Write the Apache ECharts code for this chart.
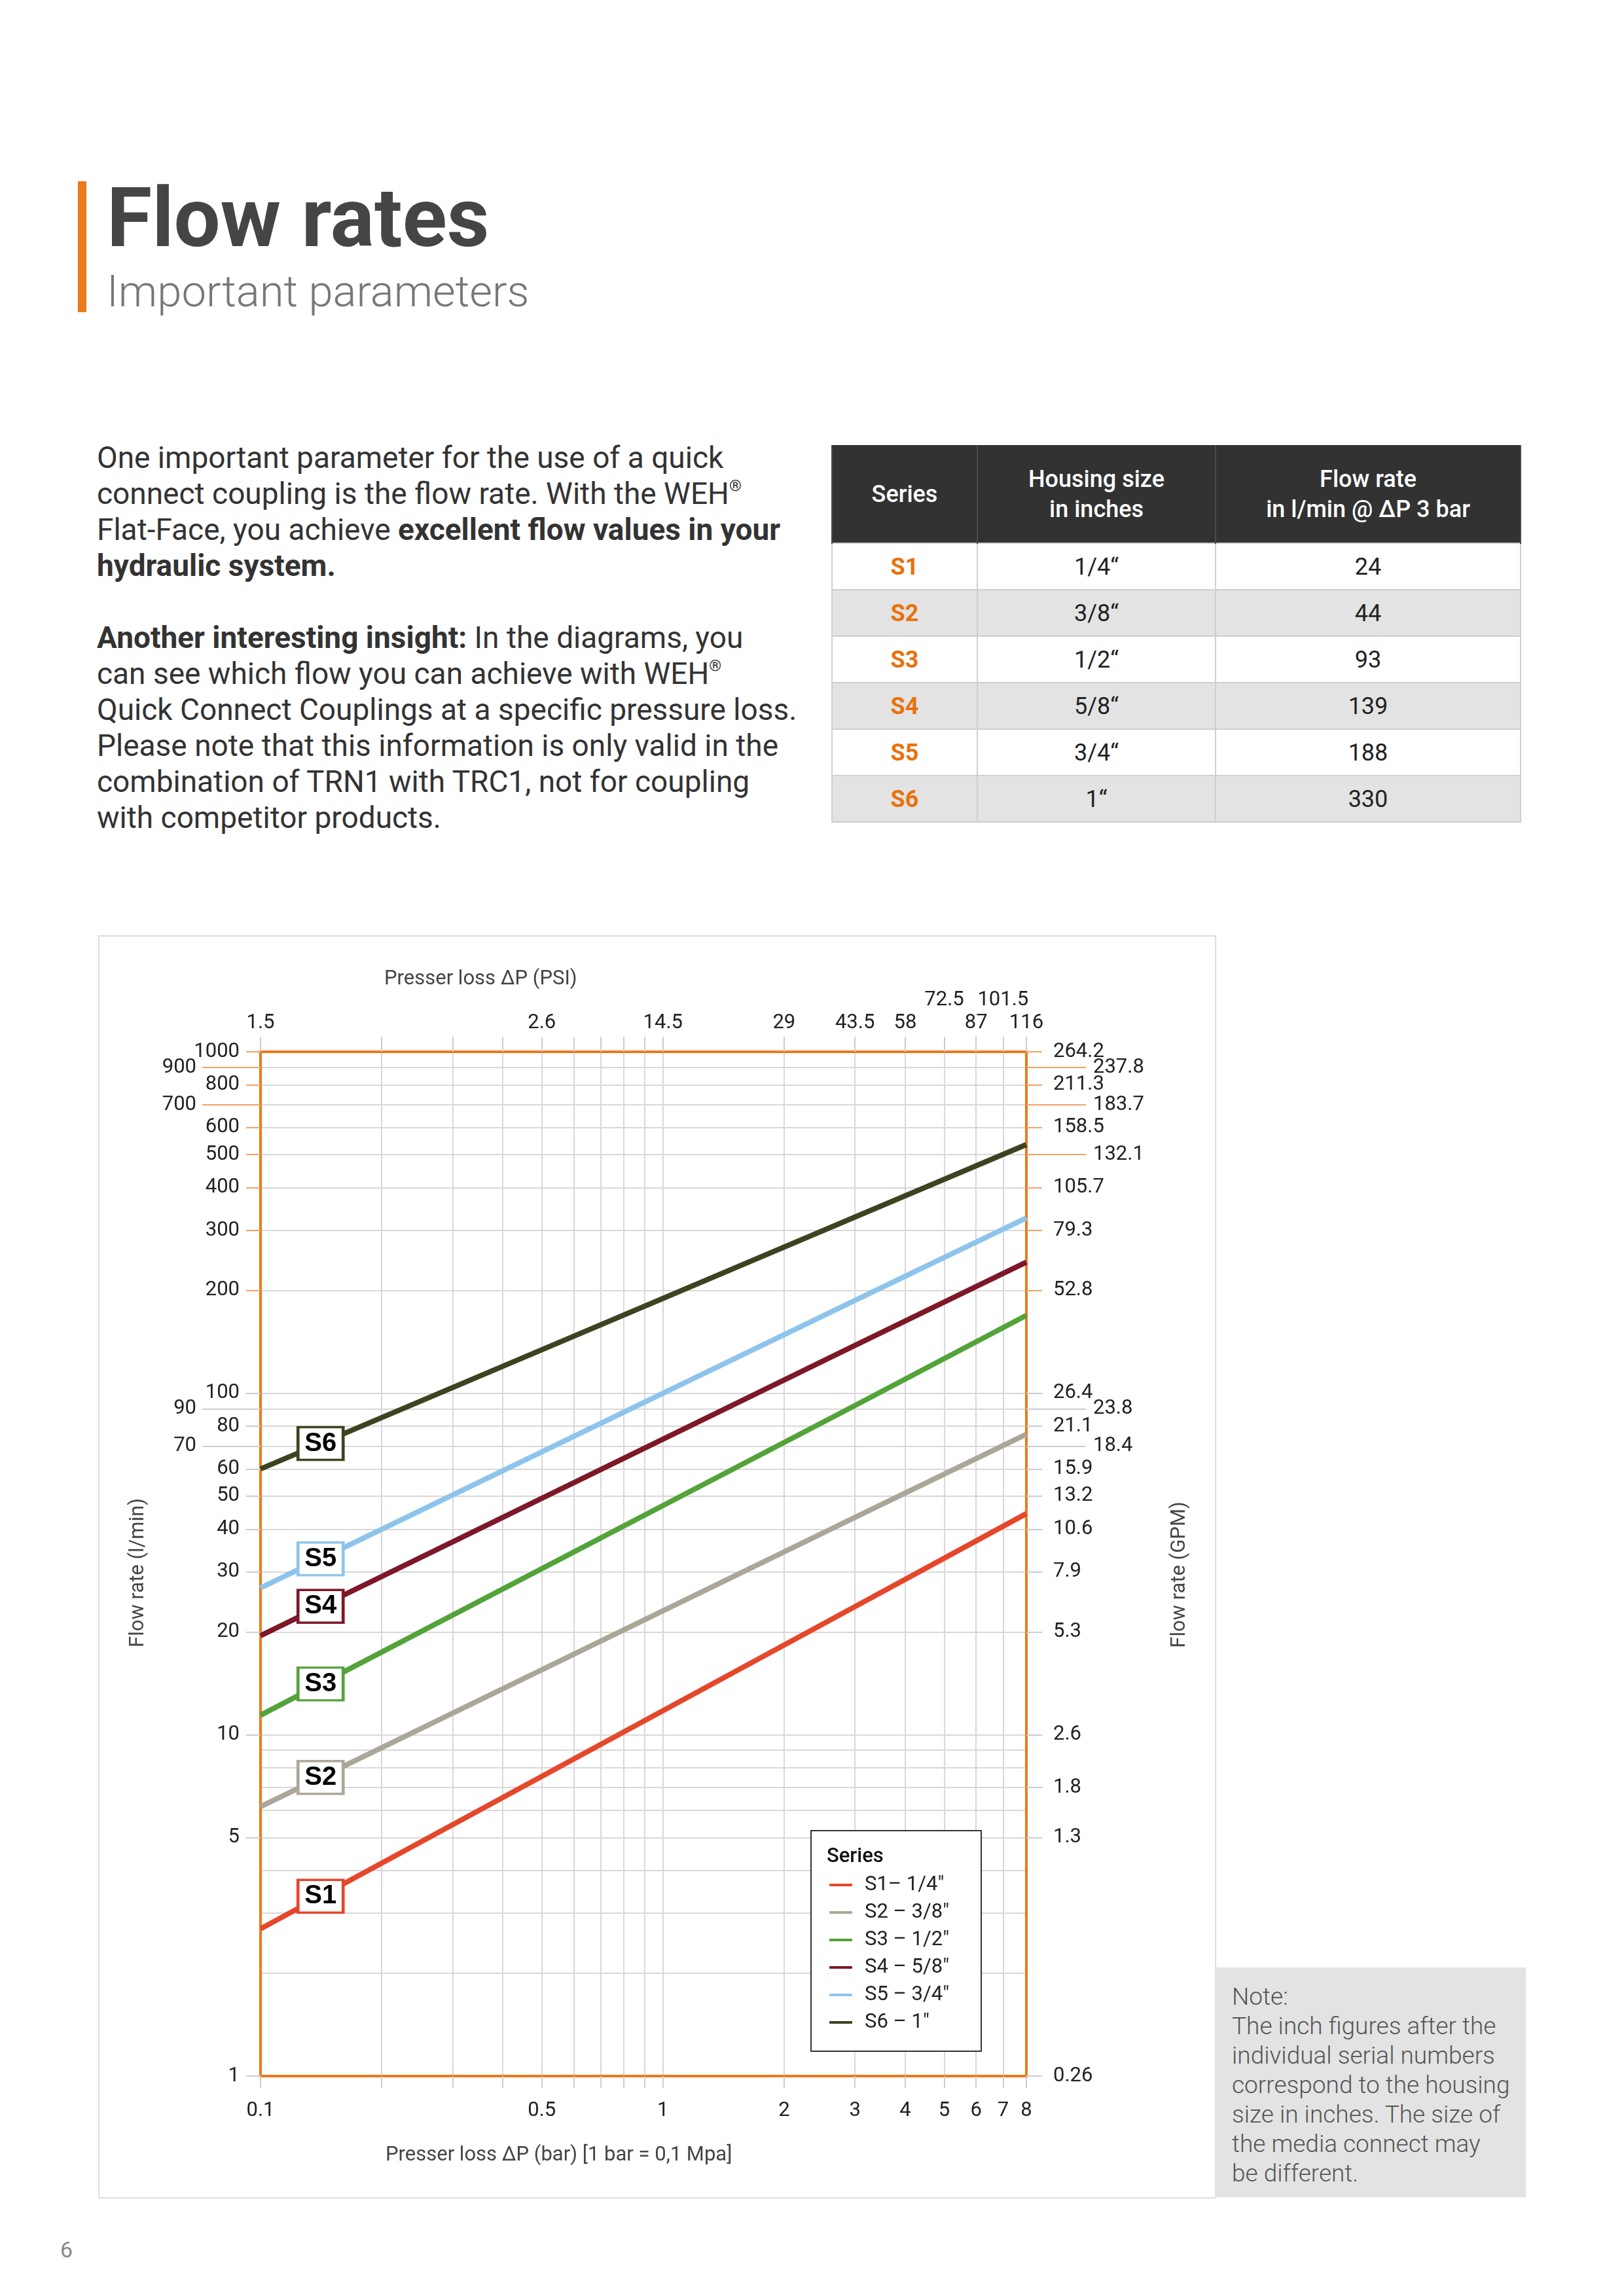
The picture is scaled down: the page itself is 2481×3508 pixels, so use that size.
<!DOCTYPE html>
<html><head><meta charset="utf-8">
<script src="https://cdn.jsdelivr.net/npm/echarts@6/dist/echarts.min.js"></script>
<style>
html,body{margin:0;padding:0;background:#fff;}
body{width:2481px;height:3508px;position:relative;overflow:hidden;font-family:Roboto,'Noto Sans',sans-serif;}
.abs{position:absolute;}
#body{left:148px;top:672px;font-size:46px;line-height:55px;color:#333;white-space:nowrap;}
#body b{font-weight:700;}
#body sup{font-size:24px;vertical-align:top;line-height:30px;}
#tbl{left:1270px;top:680px;border-collapse:collapse;table-layout:fixed;font-family:Roboto;}
#tbl th{background:#323232;color:#fff;font-weight:500;font-size:36px;line-height:46px;height:149px;padding:0;text-align:center;border-left:2px solid #4a4a4a;border-right:2px solid #4a4a4a;}
#tbl td{height:69px;padding:0;text-align:center;font-size:36px;color:#222;border:2px solid #cfcfcf;}
#tbl td.s{color:#e8720c;font-weight:700;}
#tbl tr.g td{background:#e3e3e3;}
#note{left:1857px;top:3006px;width:449px;height:329px;background:#e3e3e3;padding:22px 0 0 25px;font-size:37px;line-height:45px;font-weight:300;color:#555;white-space:nowrap;}
</style></head><body>
<div class="abs" style="left:150px;top:1429px;width:1704px;height:1926px;border:2px solid #dedede;"></div>
<div class="abs" style="left:119px;top:277px;width:13px;height:200px;background:#ea7a1c;"></div>
<div class="abs" style="left:163px;top:270px;font:700 126px/1 Roboto;color:#454545;white-space:nowrap;">Flow rates</div>
<div class="abs" style="left:163px;top:412px;font:300 67px/1 Roboto;color:#777;white-space:nowrap;">Important parameters</div>
<div class="abs" id="body">One important parameter for the use of a quick<br>connect coupling is the flow rate. With the WEH<sup>®</sup><br>Flat-Face, you achieve <b>excellent flow values in your</b><br><b>hydraulic system.</b><br><br><b>Another interesting insight:</b> In the diagrams, you<br>can see which flow you can achieve with WEH<sup>®</sup><br>Quick Connect Couplings at a specific pressure loss.<br>Please note that this information is only valid in the<br>combination of TRN1 with TRC1, not for coupling<br>with competitor products.</div>
<table class="abs" id="tbl"><colgroup><col style="width:222px"><col style="width:364px"><col style="width:466px"></colgroup>
<thead><tr><th>Series</th><th>Housing size<br>in inches</th><th>Flow rate<br>in l/min @ ΔP 3 bar</th></tr></thead><tbody id="tb"></tbody></table>
<div id="chart" class="abs" style="left:0;top:0;width:2481px;height:3508px;"></div>
<div class="abs" id="note">Note:<br>The inch figures after the<br>individual serial numbers<br>correspond to the housing<br>size in inches. The size of<br>the media connect may<br>be different.</div>
<div class="abs" style="left:92px;top:3420px;font:400 34px/1 Roboto;color:#888;">6</div>
<script>
// ---------- data ----------
const tableSeries = ['S1','S2','S3','S4','S5','S6'];
const tableHousing = ['1/4“','3/8“','1/2“','5/8“','3/4“','1“'];
const tableFlow = [24, 44, 93, 139, 188, 330];

const pressureBar = [0.1, 3, 8];
const seriesNames = ['S1– 1/4″','S2 – 3/8″','S3 – 1/2″','S4 – 5/8″','S5 – 3/4″','S6 – 1″'];
const seriesTags = ['S1','S2','S3','S4','S5','S6'];
const flowS1 = [2.7, 23.7, 44.4];
const flowS2 = [6.15, 43.3, 75.8];
const flowS3 = [11.4, 92, 169];
const flowS4 = [19.5, 138, 242];
const flowS5 = [26.9, 187, 326];
const flowS6 = [60.0, 328, 535];
const seriesColors = ['#e5472b','#aca69a','#53a33a','#7d1828','#8ec4ec','#3b4420'];

const barTicks = [0.1, 0.5, 1, 2, 3, 4, 5, 6, 7, 8];
const psiTicks = ['1.5','2.6','14.5','29','43.5','58','72.5','87','101.5','116'];
const psiUpperRow = [5, 7];
const xGridBar = [0.1,0.2,0.3,0.4,0.5,0.6,0.7,0.8,0.9,1,2,3,4,5,6,7,8];

const lpmTicks = [1,5,10,20,30,40,50,60,80,100,200,300,400,500,600,800,1000];
const lpmFarTicks = [70,90,700,900];
const gpmAt = [1000,900,800,700,600,500,400,300,200,100,90,80,70,60,50,40,30,20,10,7,5,1];
const gpmLabels = ['264.2','237.8','211.3','183.7','158.5','132.1','105.7','79.3','52.8','26.4','23.8','21.1','18.4','15.9','13.2','10.6','7.9','5.3','2.6','1.8','1.3','0.26'];
const gpmFarTicks = [70,90,500,700,900];
const yGridLpm = [1,2,3,4,5,6,7,8,9,10,20,30,40,50,60,70,80,90,100,200,300,400,500,600,700,800,900,1000];

// ---------- table ----------
const tb = document.getElementById('tb');
tableSeries.forEach((s, i) => {
  const tr = document.createElement('tr');
  if (i % 2 === 1) tr.className = 'g';
  tr.innerHTML = '<td class="s">' + s + '</td><td>' + tableHousing[i] + '</td><td>' + tableFlow[i] + '</td>';
  tb.appendChild(tr);
});

// ---------- chart ----------
const ORANGE = '#ea7a1c', TICK_OR = '#f2a366', TICK_GR = '#cccccc', GRIDC = '#d8d8d8';
const LBL = {fontSize: 31, color: '#222', fontFamily: 'Roboto'};
const flows = [flowS1, flowS2, flowS3, flowS4, flowS5, flowS6];
const near = (a, b) => Math.abs(a - b) < 1e-9 * Math.max(1, Math.abs(b));
const psiFmt = v => { const i = barTicks.findIndex(t => near(t, v)); return i < 0 ? '' : psiTicks[i]; };
const gpmFmt = v => { const i = gpmAt.findIndex(t => near(t, v)); return i < 0 ? '' : gpmLabels[i]; };
const lpmFmt = v => String(Math.round(v));

function yAx(pos, values, color, len, margin, fmt) {
  return {type: 'log', logBase: 10, min: 1, max: 1000, position: pos,
    axisLine: {show: false}, splitLine: {show: false},
    axisTick: {show: true, customValues: values, length: len, lineStyle: {color: color, width: 2}},
    axisLabel: Object.assign({show: true, customValues: values, margin: margin, formatter: fmt}, LBL)};
}
const up = a => a.filter(v => v >= 200), lo = a => a.filter(v => v <= 100);
const gpmNear = gpmAt.filter(v => gpmFarTicks.indexOf(v) < 0);

const yAxes = [
  {type: 'log', logBase: 10, min: 1, max: 1000, position: 'left',
   axisLine: {show: true, lineStyle: {color: ORANGE, width: 4}},
   axisTick: {show: false, customValues: yGridLpm}, axisLabel: {show: false},
   splitLine: {show: true, lineStyle: {color: GRIDC, width: 2}}},
  yAx('left', up(lpmTicks), TICK_OR, 22, 32, lpmFmt),
  yAx('left', lo(lpmTicks), TICK_GR, 22, 32, lpmFmt),
  yAx('left', up(lpmFarTicks), TICK_OR, 89, 98, lpmFmt),
  yAx('left', lo(lpmFarTicks), TICK_GR, 89, 98, lpmFmt),
  yAx('right', up(gpmNear), TICK_OR, 24, 41, gpmFmt),
  yAx('right', lo(gpmNear), TICK_GR, 24, 41, gpmFmt),
  yAx('right', up(gpmFarTicks), TICK_OR, 91, 102, gpmFmt),
  yAx('right', lo(gpmFarTicks), TICK_GR, 91, 102, gpmFmt)
];
yAxes[5].axisLine = {show: true, lineStyle: {color: ORANGE, width: 4}};

const xBase = {type: 'log', logBase: 10, min: 0.1, max: 8};
const xAxes = [
  Object.assign({}, xBase, {position: 'bottom',
    axisLine: {show: true, lineStyle: {color: ORANGE, width: 4}},
    axisTick: {show: true, customValues: xGridBar, length: 18, lineStyle: {color: TICK_GR, width: 2}},
    axisLabel: Object.assign({customValues: barTicks, margin: 38, formatter: v => String(+v.toPrecision(3))}, LBL),
    splitLine: {show: true, lineStyle: {color: GRIDC, width: 2}}}),
  Object.assign({}, xBase, {position: 'top',
    axisLine: {show: true, lineStyle: {color: ORANGE, width: 4}},
    axisTick: {show: true, customValues: xGridBar, length: 23, lineStyle: {color: TICK_GR, width: 2}},
    axisLabel: Object.assign({customValues: barTicks.filter(v => psiUpperRow.indexOf(v) < 0), margin: 28, formatter: psiFmt}, LBL),
    splitLine: {show: false}}),
  Object.assign({}, xBase, {position: 'top',
    axisLine: {show: false}, axisTick: {show: false}, splitLine: {show: false},
    axisLabel: Object.assign({customValues: psiUpperRow, margin: 63, formatter: psiFmt}, LBL)})
];

const TAG_BAR = 0.141;
function logInterp(xs, ys, x) {
  const lx = Math.log10(x), x0 = Math.log10(xs[0]), x1 = Math.log10(xs[1]);
  const t = (lx - x0) / (x1 - x0);
  return Math.pow(10, Math.log10(ys[0]) + t * (Math.log10(ys[1]) - Math.log10(ys[0])));
}

const series = flows.map((f, i) => ({
  name: seriesNames[i], type: 'line', xAxisIndex: 0, yAxisIndex: 0,
  data: pressureBar.map((p, j) => [p, f[j]]),
  showSymbol: false, symbol: 'none', smooth: false,
  lineStyle: {color: seriesColors[i], width: 8, cap: 'butt'},
  itemStyle: {color: seriesColors[i]},
  z: 3,
  markPoint: {
    silent: true, symbol: 'rect', symbolSize: [69, 50],
    itemStyle: {color: '#fff', borderColor: seriesColors[i], borderWidth: 4},
    label: {show: true, position: 'inside', formatter: seriesTags[i], color: '#000', fontSize: 40, fontWeight: 'bold', fontFamily: 'Liberation Sans'},
    data: [{name: seriesTags[i], coord: [TAG_BAR, logInterp(pressureBar, f, TAG_BAR)]}]
  }
}));

const chart = echarts.init(document.getElementById('chart'), null, {renderer: 'canvas'});
chart.setOption({
  animation: false,
  backgroundColor: 'transparent',
  grid: {left: 398, top: 1607, width: 1170, height: 1565, show: true, borderColor: ORANGE, borderWidth: 4, backgroundColor: 'transparent'},
  xAxis: xAxes,
  yAxis: yAxes,
  legend: {orient: 'vertical', left: 1262, top: 2859, itemWidth: 35, itemHeight: 4, icon: 'roundRect',
    itemGap: 10, selectedMode: false, z: 6, data: seriesNames,
    textStyle: {fontSize: 31, color: '#222', fontFamily: 'Roboto', lineHeight: 32, padding: [0, 0, 0, 14]}},
  graphic: [
    {type: 'rect', z: 4, shape: {x: 1239, y: 2797, width: 260, height: 337}, style: {fill: '#fff', stroke: '#333', lineWidth: 2}},
    {type: 'text', z: 7, x: 1263, y: 2837, style: {text: 'Series', font: '500 31px Roboto', fill: '#111', verticalAlign: 'middle'}},
    {type: 'text', z: 7, x: 587, y: 1496, style: {text: 'Presser loss ΔP (PSI)', font: '31px Roboto', fill: '#444', verticalAlign: 'middle'}},
    {type: 'text', z: 7, x: 589, y: 3293, style: {text: 'Presser loss ΔP (bar) [1 bar = 0,1 Mpa]', font: '31px Roboto', fill: '#444', verticalAlign: 'middle'}},
    {type: 'text', z: 7, x: 211, y: 2403, rotation: Math.PI / 2, style: {text: 'Flow rate (l/min)', font: '31px Roboto', fill: '#444', align: 'center', verticalAlign: 'middle'}},
    {type: 'text', z: 7, x: 1802, y: 2406, rotation: Math.PI / 2, style: {text: 'Flow rate (GPM)', font: '31px Roboto', fill: '#444', align: 'center', verticalAlign: 'middle'}}
  ],
  series: series
});
</script>
</body></html>
